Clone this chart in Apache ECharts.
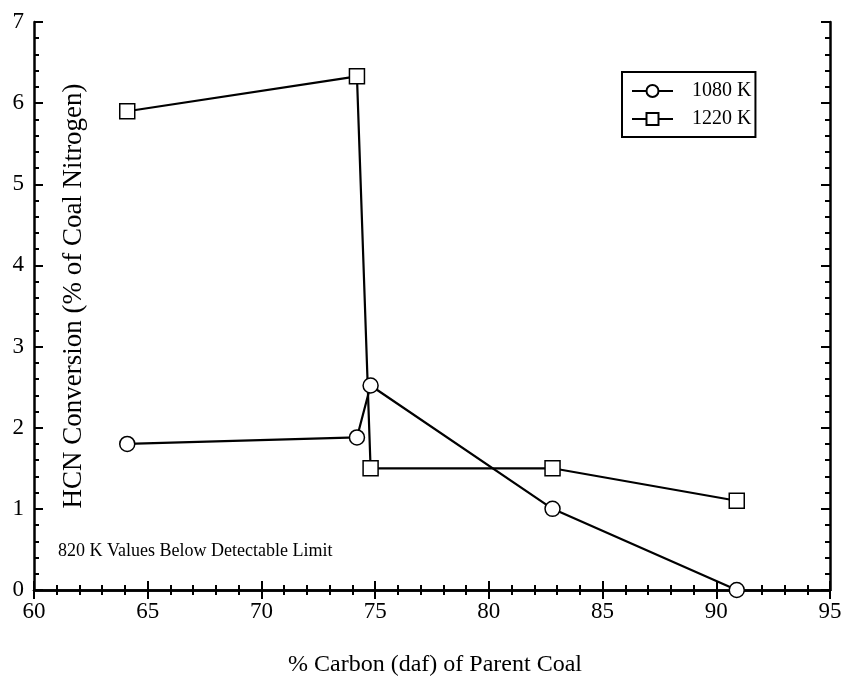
<!DOCTYPE html>
<html>
<head>
<meta charset="utf-8">
<script src="https://cdn.jsdelivr.net/npm/echarts@6/dist/echarts.min.js"></script>
<style>
html,body{margin:0;padding:0;background:#fff;}
#chart{width:845px;height:679px;}
</style>
</head>
<body>
<div id="chart"></div>
<script>
// Carbon content of parent coal (% daf) and HCN conversion (% of coal nitrogen)
const carbon1080 = [64.1, 74.2, 74.8, 82.8, 90.9];
const hcn1080    = [1.8, 1.88, 2.52, 1.0, 0.0];
const carbon1220 = [64.1, 74.2, 74.8, 82.8, 90.9];
const hcn1220    = [5.9, 6.33, 1.5, 1.5, 1.1];
const seriesNames = ['1080 K', '1220 K'];
const xTicks = [60, 65, 70, 75, 80, 85, 90, 95];
const yTicks = [0, 1, 2, 3, 4, 5, 6, 7];

const FONT = '"Liberation Serif", "Times New Roman", serif';

const chart = echarts.init(document.getElementById('chart'));

function pairs(xs, ys) { return xs.map((x, i) => [x, ys[i]]); }

const axisLine = { show: true, lineStyle: { color: '#000', width: 2.5 } };
const axisTick = { show: true, inside: true, length: 9, lineStyle: { color: '#000', width: 2 } };
const minorTick = { show: true, splitNumber: 5, length: 5, lineStyle: { color: '#000', width: 2 } };

const xBase = {
  type: 'value', min: xTicks[0], max: xTicks[xTicks.length - 1], interval: 5,
  axisLine, axisTick, minorTick, splitLine: { show: false }
};
const yBase = {
  type: 'value', min: yTicks[0], max: yTicks[yTicks.length - 1], interval: 1,
  axisLine, axisTick, minorTick, splitLine: { show: false }
};

const lineSeries = (name, data, symbol) => ({
  name, type: 'line', data, symbol, symbolSize: 15, clip: false,
  showAllSymbol: true,
  lineStyle: { color: '#000', width: 2.2 },
  itemStyle: { color: '#fff', borderColor: '#000', borderWidth: 1.5 },
  emphasis: { disabled: true },
  z: 3
});

chart.setOption({
  animation: false,
  backgroundColor: '#fff',
  textStyle: { fontFamily: FONT, color: '#000' },
  grid: { left: 34, top: 22, right: 15, bottom: 89 },
  xAxis: [
    Object.assign({}, xBase, {
      position: 'bottom',
      axisLabel: { color: '#000', fontFamily: FONT, fontSize: 23, margin: 10 }
    }),
    Object.assign({}, xBase, { position: 'top', axisLabel: { show: false } })
  ],
  yAxis: [
    Object.assign({}, yBase, {
      position: 'left',
      axisLabel: { color: '#000', fontFamily: FONT, fontSize: 23, margin: 10 }
    }),
    Object.assign({}, yBase, { position: 'right', axisLabel: { show: false } })
  ],
  legend: {
    orient: 'vertical', left: 622, top: 72,
    data: seriesNames,
    itemWidth: 41, itemHeight: 15, itemGap: 8,
    padding: [9, 4, 8, 9],
    borderColor: '#000', borderWidth: 2,
    backgroundColor: '#fff',
    textStyle: { fontFamily: FONT, fontSize: 20, color: '#000', padding: [0, 0, 0, 14] },
    selectedMode: false
  },
  series: [
    lineSeries(seriesNames[0], pairs(carbon1080, hcn1080), 'circle'),
    lineSeries(seriesNames[1], pairs(carbon1220, hcn1220), 'rect')
  ],
  graphic: [
    {
      type: 'text', left: 58, top: 542,
      style: { text: '820 K Values Below Detectable Limit', font: '18px ' + FONT, fill: '#000' }
    },
    {
      type: 'text', x: 74, y: 296, rotation: Math.PI / 2,
      style: {
        text: 'HCN Conversion (% of Coal Nitrogen)', font: '27px ' + FONT, fill: '#000',
        align: 'center', verticalAlign: 'middle'
      }
    },
    {
      type: 'text', x: 435, y: 665,
      style: {
        text: '% Carbon (daf) of Parent Coal', font: '24px ' + FONT, fill: '#000',
        align: 'center', verticalAlign: 'middle'
      }
    }
  ]
});
</script>
</body>
</html>
